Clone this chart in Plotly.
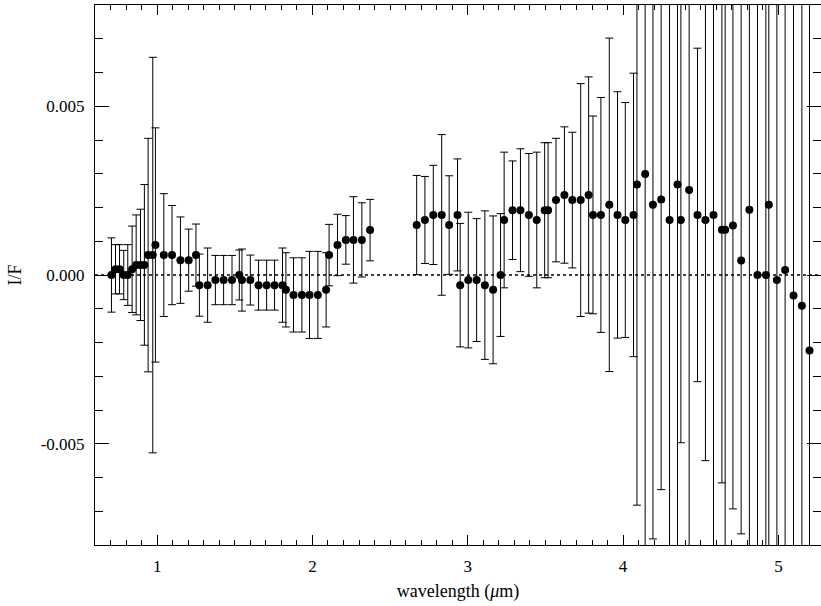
import plotly.graph_objects as go

# wavelength (micron)
wavelength = [
    0.706, 0.732, 0.758, 0.785, 0.811, 0.839, 0.865, 0.893, 0.918, 0.942,
    0.972, 0.989, 1.043, 1.096, 1.150, 1.203, 1.250, 1.272, 1.325, 1.375,
    1.428, 1.482, 1.529, 1.546, 1.600, 1.653, 1.705, 1.756, 1.807, 1.829,
    1.878, 1.932, 1.981, 2.035, 2.088, 2.107, 2.161, 2.215, 2.264, 2.318,
    2.371,
    2.671, 2.724, 2.778, 2.832, 2.880, 2.934, 2.951, 3.003, 3.057, 3.110,
    3.163, 3.211, 3.234, 3.288, 3.339, 3.393, 3.444, 3.495, 3.517, 3.568,
    3.622, 3.673, 3.727, 3.778, 3.806, 3.857, 3.911, 3.964, 4.014, 4.067,
    4.089, 4.142, 4.192, 4.245, 4.299, 4.350, 4.372, 4.425, 4.479, 4.530,
    4.582, 4.636, 4.657, 4.707, 4.760, 4.813, 4.865, 4.919, 4.938, 4.990,
    5.043, 5.097, 5.151, 5.200,
]

# I/F
i_over_f = [
    0.0, 0.00017, 0.00017, 0.0, 0.0, 0.00017, 0.0003, 0.0003, 0.0003, 0.00059,
    0.00059, 0.00089, 0.00059, 0.00059, 0.00044, 0.00044, 0.00059, -0.0003, -0.0003, -0.00015,
    -0.00015, -0.00015, 0.0, -0.00015, -0.00015, -0.0003, -0.0003, -0.0003, -0.0003, -0.00044,
    -0.00059, -0.00059, -0.00059, -0.00059, -0.00044, 0.00059, 0.00089, 0.00104, 0.00104, 0.00104,
    0.00133,
    0.00148, 0.00163, 0.00178, 0.00178, 0.00148, 0.00178, -0.0003, -0.00015, -0.00015, -0.0003,
    -0.00044, 0.0, 0.00163, 0.00192, 0.00192, 0.00178, 0.00163, 0.00192, 0.00192, 0.00222,
    0.00237, 0.00222, 0.00222, 0.00237, 0.00178, 0.00178, 0.00208, 0.00178, 0.00163, 0.00178,
    0.00268, 0.00299, 0.00208, 0.00224, 0.00163, 0.00268, 0.00163, 0.00252, 0.00178, 0.00163,
    0.00178, 0.00134, 0.00134, 0.00147, 0.00043, 0.00193, 0.0, 0.0, 0.00208, -0.00015,
    0.00015, -0.00061, -0.00091, -0.00224,
]

# 1-sigma uncertainty
i_over_f_err = [
    0.0011, 0.00073, 0.00073, 0.00073, 0.0009, 0.00128, 0.00148, 0.00165, 0.00238, 0.00346,
    0.00586, 0.00347, 0.00182, 0.00147, 0.00128, 0.00092, 0.00092, 0.00092, 0.0011, 0.00073,
    0.00073, 0.00073, 0.00074, 0.00092, 0.00074, 0.00074, 0.00074, 0.00074, 0.0011, 0.0011,
    0.0011, 0.0011, 0.00129, 0.00129, 0.0011, 0.00091, 0.00091, 0.00072, 0.00128, 0.0011,
    0.00091,
    0.00147, 0.00129, 0.00147, 0.00238, 0.00146, 0.00166, 0.00183, 0.00201, 0.00182, 0.0022,
    0.00219, 0.00182, 0.00201, 0.00146, 0.00182, 0.00182, 0.00201, 0.0020, 0.0020, 0.00183,
    0.00202, 0.00201, 0.00345, 0.0035, 0.00293, 0.00348, 0.00494, 0.00365, 0.00348, 0.0042,
    0.0095, 0.012, 0.0099, 0.0086, 0.012, 0.012, 0.0066, 0.012, 0.00494, 0.00713,
    0.012, 0.0075, 0.012, 0.0084, 0.0081, 0.012, 0.012, 0.012, 0.012, 0.012,
    0.012, 0.012, 0.012, 0.012,
]

x_tick_vals = [1, 2, 3, 4, 5]
x_tick_text = ["1", "2", "3", "4", "5"]
y_tick_vals = [-0.005, 0.0, 0.005]
y_tick_text = ["-0.005", "0.000", "0.005"]

FONT = "Liberation Serif"

fig = go.Figure()
fig.add_trace(go.Scatter(
    x=wavelength, y=i_over_f, mode="markers",
    marker=dict(color="black", size=8),
    error_y=dict(type="data", array=i_over_f_err, visible=True,
                 color="black", thickness=1, width=4),
    showlegend=False,
))

fig.add_shape(type="line", xref="paper", x0=0, x1=1, yref="y", y0=0, y1=0,
              line=dict(color="black", width=1.3, dash="dot"), layer="below")

axis_common = dict(
    showline=True, linecolor="black", linewidth=1, mirror="allticks",
    ticks="inside", tickcolor="black", showgrid=False, zeroline=False,
    tickfont=dict(family=FONT, size=17, color="black"),
)

fig.update_xaxes(
    range=[0.6, 5.274], tickvals=x_tick_vals, ticktext=x_tick_text,
    ticklen=10, tickwidth=1,
    minor=dict(dtick=0.1, tick0=0, ticklen=5, tickcolor="black", ticks="inside"),
    title=dict(text="wavelength (<i>μ</i>m)", font=dict(family=FONT, size=18, color="black"), standoff=8),
    ticklabelstandoff=6,
    **axis_common,
)
fig.update_yaxes(
    range=[-0.008, 0.008], tickvals=y_tick_vals, ticktext=y_tick_text,
    ticklen=14, tickwidth=1,
    minor=dict(dtick=0.001, tick0=0, ticklen=8, tickcolor="black", ticks="inside"),
    title=dict(text="I/F", font=dict(family=FONT, size=18, color="black"), standoff=14),
    ticklabelstandoff=6,
    **axis_common,
)

fig.update_layout(
    width=821, height=606,
    margin=dict(l=95, r=0, t=5, b=61, autoexpand=False),
    paper_bgcolor="white", plot_bgcolor="white",
)

fig.write_html("out.html")
